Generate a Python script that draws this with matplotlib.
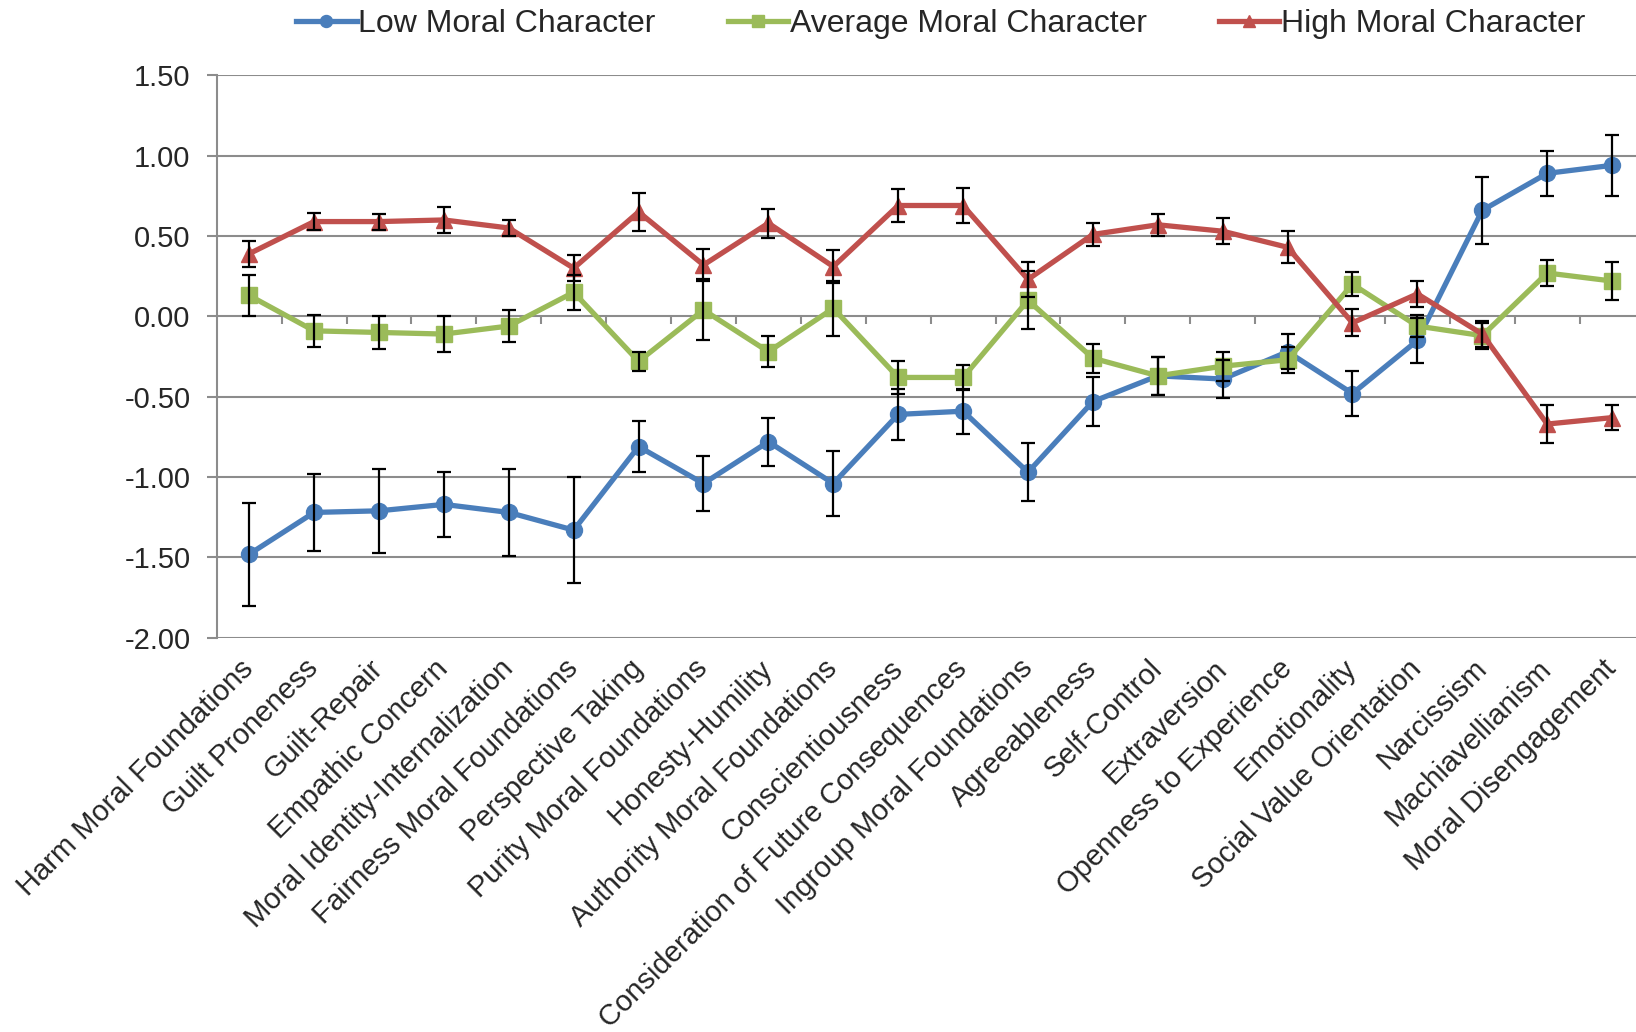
import matplotlib.pyplot as plt
import numpy as np
from matplotlib.ticker import FormatStrFormatter

plt.rcParams['font.family'] = ['Liberation Sans', 'DejaVu Sans']

labels = ["Harm Moral Foundations", "Guilt Proneness", "Guilt-Repair",
          "Empathic Concern", "Moral Identity-Internalization",
          "Fairness Moral Foundations", "Perspective Taking",
          "Purity Moral Foundations", "Honesty-Humility",
          "Authority Moral Foundations", "Conscientiousness",
          "Consideration of Future Consequences", "Ingroup Moral Foundations",
          "Agreeableness", "Self-Control", "Extraversion",
          "Openness to Experience", "Emotionality", "Social Value Orientation",
          "Narcissism", "Machiavellianism", "Moral Disengagement"]

low = [-1.48, -1.22, -1.21, -1.17, -1.22, -1.33, -0.81, -1.04, -0.78, -1.04, -0.61,
       -0.59, -0.97, -0.53, -0.37, -0.39, -0.22, -0.48, -0.15, 0.66, 0.89, 0.94]
low_err = [0.32, 0.24, 0.26, 0.20, 0.27, 0.33, 0.16, 0.17, 0.15, 0.20, 0.16,
           0.14, 0.18, 0.15, 0.12, 0.12, 0.11, 0.14, 0.14, 0.21, 0.14, 0.19]

avg = [0.13, -0.09, -0.10, -0.11, -0.06, 0.15, -0.28, 0.04, -0.22, 0.05, -0.38,
       -0.38, 0.10, -0.26, -0.37, -0.31, -0.27, 0.20, -0.06, -0.12, 0.27, 0.22]
avg_err = [0.13, 0.10, 0.105, 0.11, 0.10, 0.11, 0.06, 0.19, 0.095, 0.17, 0.10,
           0.08, 0.18, 0.09, 0.12, 0.09, 0.08, 0.075, 0.07, 0.08, 0.08, 0.12]

high = [0.39, 0.59, 0.59, 0.60, 0.55, 0.30, 0.65, 0.32, 0.58, 0.31, 0.69,
        0.69, 0.23, 0.51, 0.57, 0.53, 0.43, -0.04, 0.14, -0.11, -0.67, -0.63]
high_err = [0.08, 0.055, 0.05, 0.08, 0.05, 0.08, 0.12, 0.10, 0.09, 0.10, 0.10,
            0.11, 0.11, 0.07, 0.07, 0.08, 0.10, 0.085, 0.08, 0.08, 0.12, 0.08]

yticks = [1.5, 1.0, 0.5, 0.0, -0.5, -1.0, -1.5, -2.0]

grid_col = '#8c8c8c'
text_col = '#262626'

fig = plt.figure(figsize=(16.36, 10.32), dpi=100)
ax = fig.add_axes([0.1325, 0.382, 0.8727, 0.545])

x = np.arange(len(labels))

series = [
    (low, low_err, 'Low Moral Character', '#4a7ebb', 'o', 11.5),
    (avg, avg_err, 'Average Moral Character', '#9bbb59', 's', 11.5),
    (high, high_err, 'High Moral Character', '#c0504d', '^', 12),
]

for i, (vals, errs, name, col, mk, ms) in enumerate(series):
    ax.plot(x, vals, color=col, lw=3.8, marker=mk, markersize=ms,
            label=name, zorder=3 + i)
    ax.errorbar(x, vals, yerr=errs, fmt='none', ecolor='black',
                elinewidth=1.6, capsize=5, capthick=1.6, zorder=6)

# gridlines and the category tick marks on the zero line
for v in yticks:
    ax.axhline(v, color=grid_col, lw=1.5, zorder=1)
ax.vlines(x[:-1] + 0.5, -0.05, 0, color=grid_col, lw=1.5, zorder=1)

ax.set_xlim(-0.5, len(labels) - 0.5)
ax.set_ylim(-2.0, 1.5)
ax.set_yticks(yticks)
ax.yaxis.set_major_formatter(FormatStrFormatter('%.2f'))
ax.tick_params(axis='y', length=7, width=1.5, color=grid_col, pad=12,
               labelsize=21, labelcolor=text_col)

ax.set_xticks(x)
ax.set_xticklabels(labels, rotation=45, ha='right', va='center',
                   rotation_mode='anchor', fontsize=21, color=text_col)
ax.tick_params(axis='x', length=0, pad=19)

for s in ['top', 'right', 'bottom']:
    ax.spines[s].set_visible(False)
ax.spines['left'].set_color(grid_col)
ax.spines['left'].set_linewidth(1.5)

fig.legend(loc='center', bbox_to_anchor=(0.575, 0.977), ncol=3, frameon=False,
           fontsize=23, handlelength=1.9, handletextpad=0.05,
           columnspacing=2.25, markerscale=0.75, labelcolor=text_col)

fig.savefig('out.png', dpi=100)
